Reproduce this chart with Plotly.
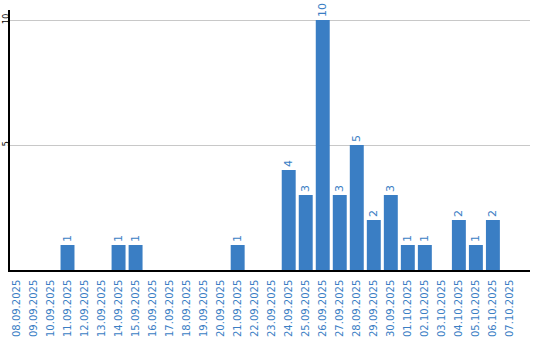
import plotly.graph_objects as go

dates = ["08.09.2025", "09.09.2025", "10.09.2025", "11.09.2025", "12.09.2025",
         "13.09.2025", "14.09.2025", "15.09.2025", "16.09.2025", "17.09.2025",
         "18.09.2025", "19.09.2025", "20.09.2025", "21.09.2025", "22.09.2025",
         "23.09.2025", "24.09.2025", "25.09.2025", "26.09.2025", "27.09.2025",
         "28.09.2025", "29.09.2025", "30.09.2025", "01.10.2025", "02.10.2025",
         "03.10.2025", "04.10.2025", "05.10.2025", "06.10.2025", "07.10.2025"]
counts = [0, 0, 0, 1, 0, 0, 1, 1, 0, 0, 0, 0, 0, 1, 0, 0, 4, 3, 10, 3, 5, 2, 3, 1, 1, 0, 2, 1, 2, 0]
y_ticks = [5, 10]

blue = "#3a7ec4"
labels = [str(v) if v else "" for v in counts]

fig = go.Figure(go.Bar(
    x=dates, y=counts, text=labels, textposition="outside", textangle=-90,
    textfont=dict(color=blue, size=11, family="DejaVu Sans"),
    marker=dict(color=blue, line=dict(width=0)), width=0.82, cliponaxis=False,
))
fig.update_layout(
    width=540, height=340, margin=dict(l=10, r=10, t=10, b=70),
    paper_bgcolor="white", plot_bgcolor="white", showlegend=False,
    font=dict(family="DejaVu Sans"),
)
fig.update_xaxes(type="category", range=[-0.38, 30.18], tickangle=-90, automargin=False,
                 tickfont=dict(color=blue, size=10), showline=True, linecolor="black",
                 linewidth=1.5, showgrid=False, ticks="", ticklabelstandoff=4)
fig.update_yaxes(range=[0, 10.4], tickvals=y_ticks, tickangle=-90, automargin=False,
                 tickfont=dict(color="black", size=8), showline=True, linecolor="black",
                 linewidth=1.5, gridcolor="#c8c8c8", gridwidth=1, ticks="", ticklen=0,
                 zeroline=False, ticklabelstandoff=-4)
fig.write_html("out.html")
